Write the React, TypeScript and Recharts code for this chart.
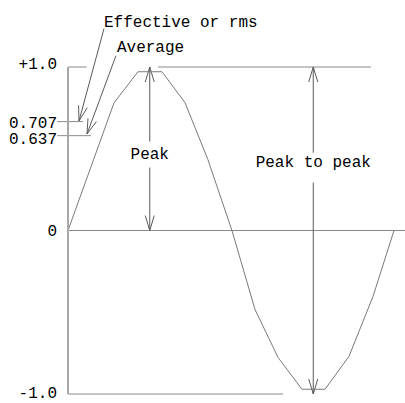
import React from 'react';
import { LineChart, Line, XAxis, YAxis, ReferenceLine, ReferenceDot } from 'recharts';

// phase in degrees, value in units of peak
const phaseDeg = [0, 50.6, 77, 103.5, 128.8, 154, 180.5, 205.9, 231.2, 257.6, 282.9, 309.3, 335.8, 358.9];
const waveValue = [0, 0.78, 0.971, 0.971, 0.782, 0.434, 0, -0.483, -0.776, -0.971, -0.971, -0.77, -0.403, 0];

const yTicks = [1, 0.666, 0.58, 0, -1];
const yTickLabels = ['+1.0', '0.707', '0.637', '0', '-1.0'];

const annotations = [
  { text: 'Effective or rms', x: 39.6, y: 1.27, anchor: 'start' },
  { text: 'Average', x: 53.9, y: 1.115, anchor: 'start' },
  { text: 'Peak', x: 90, y: 0.464, anchor: 'middle' },
  { text: 'Peak to peak', x: 270, y: 0.41, anchor: 'middle' },
];

const data = phaseDeg.map((deg, i) => ({ deg, v: waveValue[i] }));

const FONT = '"Liberation Mono", "DejaVu Sans Mono", monospace';
const GRID = '#8a8a8a';
const ARROW = '#5a5a5a';

// labels sit a little under their level lines, as in the drawing
const labelNudge: Record<string, number> = { '+1.0': -2, '0.707': 2, '0.637': 4, '0': 1, '-1.0': 0 };

const YTick = (p: any) => {
  const label = yTickLabels[yTicks.indexOf(p.payload.value)] ?? '';
  return (
    <text
      x={p.x}
      y={p.y + (labelNudge[label] ?? 0)}
      textAnchor="end"
      dominantBaseline="central"
      fill="#000"
      fontSize={16}
      fontFamily={FONT}
    >
      {label}
    </text>
  );
};

// line with an open V arrowhead at its second point
const arrowShape = (p: any) => {
  const { x1, y1, x2, y2 } = p;
  const dx = x2 - x1;
  const dy = y2 - y1;
  const len = Math.sqrt(dx * dx + dy * dy) || 1;
  const ux = dx / len;
  const uy = dy / len;
  const L = 15;
  const W = 4.5;
  const bx = x2 - ux * L;
  const by = y2 - uy * L;
  const pts = `${bx - uy * W},${by + ux * W} ${x2},${y2} ${bx + uy * W},${by - ux * W}`;
  return (
    <g>
      <line x1={x1} y1={y1} x2={x2} y2={y2} stroke={ARROW} strokeWidth={1} />
      <polyline points={pts} fill="none" stroke={ARROW} strokeWidth={1} />
    </g>
  );
};

export default function App() {
  return (
    <div style={{ position: 'absolute', left: 0, top: 0, width: 405, height: 403, background: '#fff' }}>
      <LineChart width={405} height={403} data={data} margin={{ top: 67, right: 0, bottom: 9, left: 0 }}>
        <XAxis type="number" dataKey="deg" domain={[0, 371]} hide />
        <YAxis
          type="number"
          domain={[-1, 1]}
          ticks={yTicks}
          interval={0}
          width={68}
          tickLine={false}
          tickMargin={5}
          axisLine={{ stroke: '#a8a8a8', strokeWidth: 2 }}
          tick={YTick}
        />

        {/* level lines */}
        <ReferenceLine ifOverflow="visible" segment={[{ x: 0, y: 0 }, { x: 371, y: 0 }]} stroke={GRID} />
        <ReferenceLine ifOverflow="visible" segment={[{ x: 0, y: 1 }, { x: 20.5, y: 1 }]} stroke={GRID} />
        <ReferenceLine ifOverflow="visible" segment={[{ x: 99, y: 1 }, { x: 333.5, y: 1 }]} stroke={GRID} />
        <ReferenceLine ifOverflow="visible" segment={[{ x: 0, y: -1 }, { x: 236.7, y: -1 }]} stroke={GRID} />
        <ReferenceLine ifOverflow="visible" segment={[{ x: -12, y: 0.666 }, { x: 16.5, y: 0.666 }]} stroke={GRID} />
        <ReferenceLine ifOverflow="visible" segment={[{ x: -12, y: 0.58 }, { x: 25.3, y: 0.58 }]} stroke={GRID} />

        {/* pointers from the labels */}
        <ReferenceLine ifOverflow="visible" segment={[{ x: 39.6, y: 1.234 }, { x: 12.1, y: 0.67 }]} shape={arrowShape} />
        <ReferenceLine ifOverflow="visible" segment={[{ x: 52.8, y: 1.069 }, { x: 20.9, y: 0.59 }]} shape={arrowShape} />

        {/* peak */}
        <ReferenceLine ifOverflow="visible" segment={[{ x: 90, y: 0.544 }, { x: 90, y: 1 }]} shape={arrowShape} />
        <ReferenceLine ifOverflow="visible" segment={[{ x: 90, y: 0.385 }, { x: 90, y: 0 }]} shape={arrowShape} />

        {/* peak to peak */}
        <ReferenceLine ifOverflow="visible" segment={[{ x: 270, y: 0.476 }, { x: 270, y: 1 }]} shape={arrowShape} />
        <ReferenceLine ifOverflow="visible" segment={[{ x: 270, y: 0.293 }, { x: 270, y: -1 }]} shape={arrowShape} />

        <Line
          type="linear"
          dataKey="v"
          stroke="#7a7a7a"
          strokeWidth={1}
          dot={false}
          activeDot={false}
          isAnimationActive={false}
        />

        {annotations.map((a) => (
          <ReferenceDot
            key={a.text}
            x={a.x}
            y={a.y}
            ifOverflow="visible"
            shape={(p: any) => (
              <text
                x={p.cx}
                y={p.cy}
                textAnchor={a.anchor}
                dominantBaseline="central"
                fill="#000"
                fontSize={16}
                fontFamily={FONT}
              >
                {a.text}
              </text>
            )}
          />
        ))}
      </LineChart>
    </div>
  );
}
